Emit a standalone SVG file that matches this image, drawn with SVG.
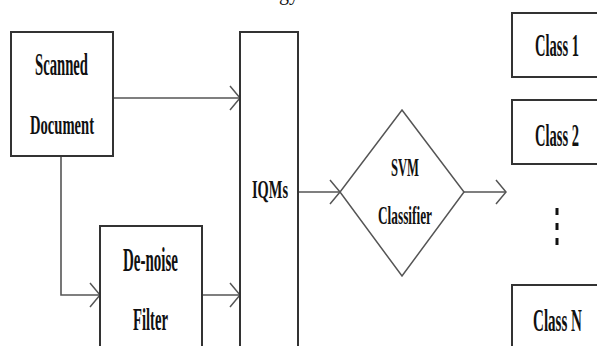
<svg xmlns="http://www.w3.org/2000/svg" width="597" height="346" viewBox="0 0 597 346">
<defs>
<marker id="arr" markerUnits="userSpaceOnUse" markerWidth="14" markerHeight="28" refX="11" refY="13" orient="auto" overflow="visible">
<path d="M1,1 L11,13 L1,25" fill="none" stroke="#555" stroke-width="1.5"/>
</marker>
<style>
.box{fill:#fff;stroke:#333;stroke-width:2}
.conn{fill:none;stroke:#555;stroke-width:1.6}
.lbl{font-family:"Liberation Serif","Times New Roman",serif;font-weight:bold;fill:#111;lengthAdjust:spacingAndGlyphs}
</style>
</defs>
<rect width="597" height="346" fill="#fff"/>
<text x="279" y="-0.5" font-family="Liberation Serif, serif" font-size="20" fill="#111">gy</text>
<g id="connectors">
<line class="conn" x1="113" y1="98" x2="240" y2="98" marker-end="url(#arr)"/>
<polyline class="conn" points="61,156 61,295 100,295" marker-end="url(#arr)"/>
<line class="conn" x1="202" y1="295" x2="240" y2="295" marker-end="url(#arr)"/>
<line class="conn" x1="298" y1="192" x2="340" y2="192" marker-end="url(#arr)"/>
<line class="conn" x1="464" y1="192" x2="506" y2="192" marker-end="url(#arr)"/>
</g>
<g id="scanned">
<rect class="box" x="11" y="32" width="102" height="124"/>
<text class="lbl" x="35" y="75" font-size="32" textLength="53" lengthAdjust="spacingAndGlyphs">Scanned</text>
<text class="lbl" x="30" y="134" font-size="28" textLength="64" lengthAdjust="spacingAndGlyphs">Document</text>
</g>
<g id="denoise">
<rect class="box" x="100" y="226" width="102" height="140"/>
<text class="lbl" x="123" y="271" font-size="33" textLength="55" lengthAdjust="spacingAndGlyphs">De-noise</text>
<text class="lbl" x="133" y="330" font-size="32" textLength="35" lengthAdjust="spacingAndGlyphs">Filter</text>
</g>
<g id="iqms">
<rect class="box" x="240" y="32" width="58" height="330"/>
<text class="lbl" x="252" y="198" font-size="26" textLength="36" lengthAdjust="spacingAndGlyphs">IQMs</text>
</g>
<g id="svm">
<polygon class="box" points="402,110 464,192 402,276 340,192" style="stroke:#555;stroke-width:1.5"/>
<text class="lbl" x="391" y="176" font-size="26" textLength="28" lengthAdjust="spacingAndGlyphs">SVM</text>
<text class="lbl" x="378" y="224" font-size="25" textLength="54" lengthAdjust="spacingAndGlyphs">Classifier</text>
</g>
<g id="class1">
<rect class="box" x="512" y="13" width="100" height="64"/>
<text class="lbl" x="535" y="56" font-size="32" textLength="44" lengthAdjust="spacingAndGlyphs">Class 1</text>
</g>
<g id="class2">
<rect class="box" x="512" y="100" width="100" height="64"/>
<text class="lbl" x="535" y="146" font-size="32" textLength="44" lengthAdjust="spacingAndGlyphs">Class 2</text>
</g>
<g id="dots">
<rect x="555.5" y="208" width="3" height="7" fill="#111"/>
<rect x="555.5" y="223" width="3" height="7" fill="#111"/>
<rect x="555.5" y="238" width="3" height="7" fill="#111"/>
</g>
<g id="classN">
<rect class="box" x="512" y="285" width="100" height="80"/>
<text class="lbl" x="533" y="331" font-size="32" textLength="49" lengthAdjust="spacingAndGlyphs">Class N</text>
</g>
</svg>
